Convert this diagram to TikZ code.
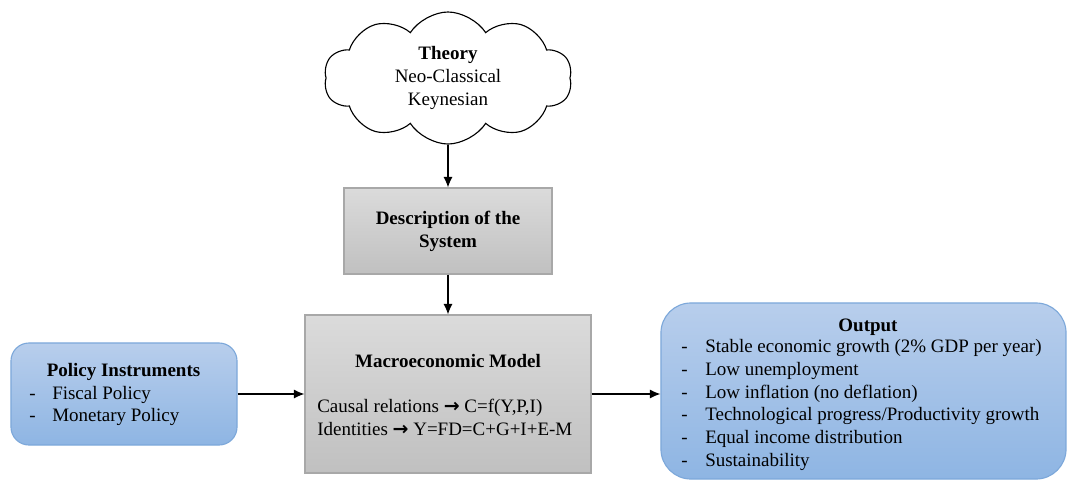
\documentclass[tikz,border=0pt]{standalone}
\usepackage{fontspec}
\setmainfont{Liberation Serif}
\newfontfamily\arrowfont{DejaVu Sans}
\usetikzlibrary{shapes.symbols,arrows.meta}
\definecolor{graytop}{RGB}{219,219,219}
\definecolor{graybot}{RGB}{192,192,192}
\definecolor{grayline}{RGB}{168,168,168}
\definecolor{bluetop}{RGB}{184,206,236}
\definecolor{bluebot}{RGB}{142,181,227}
\definecolor{blueline}{RGB}{125,168,218}
\newcommand{\ra}{{\arrowfont\bfseries →}}
\newcommand{\txt}{\fontsize{13.5}{16.2}\selectfont}
\begin{document}
\begin{tikzpicture}[x=0.025cm,y=-0.025cm,font=\txt,
        graybox/.style={draw=grayline,top color=graytop,bottom color=graybot,line width=0.8pt,inner sep=0pt},
        bluebox/.style={draw=blueline,top color=bluetop,bottom color=bluebot,line width=0.8pt,inner sep=0pt},
        boldtext/.style={font=\txt\bfseries,inner sep=0pt},
        flow/.style={line width=0.8pt,-{Latex[length=7.5pt,width=6.5pt]}}]
        \useasboundingbox (0,0) rectangle (1067,481);
        \node[cloud,draw,cloud puffs=10,cloud puff arc=115,aspect=1.9,minimum width=6.2cm,minimum height=3.3cm,
            align=center,line width=0.8pt,inner sep=0pt] (theory) at (448,78) {\textbf{Theory}\\Neo-Classical\\Keynesian};
        \node[graybox,minimum width=5.2cm,minimum height=2.15cm,align=center,font=\txt\bfseries] (desc) at (448,231) {Description of the\\System};
        \node[graybox,minimum width=7.15cm,minimum height=3.95cm] (model) at (448,394) {};
        \node[boldtext] (modeltitle) at (448,361) {Macroeconomic Model};
        \node[anchor=west,align=left,inner sep=0pt] (modeltext) at (317,417.5)
            {Causal relations \ra{} C=f(Y,P,I)\\Identities \ra{} Y=FD=C+G+I+E-M};
        \node[bluebox,rounded corners=0.45cm,minimum width=5.65cm,minimum height=2.55cm] (policy) at (124,394) {};
        \node[boldtext] (policytitle) at (123.5,372) {Policy Instruments};
        \node[anchor=west,inner sep=0pt] (policylist) at (29,406)
            {\begin{tabular}{@{}p{0.575cm}@{}l@{}}
            -&Fiscal Policy\\
            -&Monetary Policy
            \end{tabular}};
        \node[bluebox,rounded corners=0.75cm,minimum width=10.125cm,minimum height=4.4cm] (output) at (863.5,391) {};
        \node[boldtext] (outputtitle) at (868,327) {Output};
        \node[anchor=west,inner sep=0pt] (outputlist) at (681,405)
            {\begin{tabular}{@{}p{0.6cm}@{}l@{}}
            -&Stable economic growth (2\% GDP per year)\\
            -&Low unemployment\\
            -&Low inflation (no deflation)\\
            -&Technological progress/Productivity growth\\
            -&Equal income distribution\\
            -&Sustainability
            \end{tabular}};
        \draw[flow] (theory.south) -- (desc.north);
        \draw[flow] (desc.south) -- (model.north);
        \draw[flow] (policy.east) -- (model.west);
        \draw[flow] (model.east) -- (model.east -| output.west);
\end{tikzpicture}
\end{document}
